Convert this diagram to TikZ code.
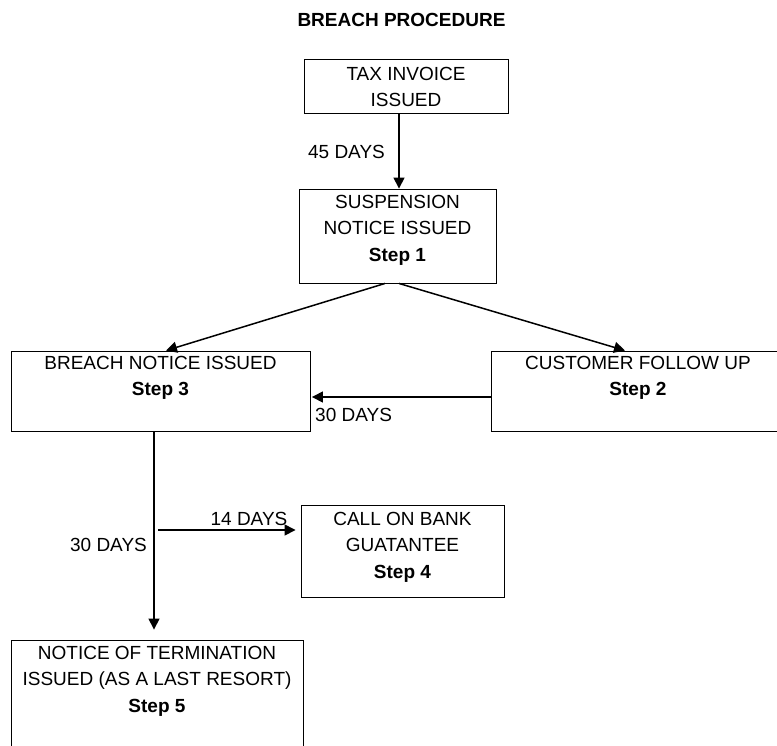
\documentclass[tikz,border=0pt]{standalone}
\usepackage{fontspec}
\setmainfont{Liberation Sans}
\usetikzlibrary{arrows.meta,calc}
\tikzset{
  box/.style={draw=black, line width=0.9pt, inner sep=0pt, rectangle},
  txt/.style={align=center, inner sep=0pt, font=\fontsize{19}{26.5}\selectfont},
  lbl/.style={inner sep=0pt, font=\fontsize{19}{26.5}\selectfont},
  conn/.style={draw=black, line width=1.5pt, -{Triangle[length=11pt,width=11pt]}},
  plain/.style={draw=black, line width=1.5pt}
}
\begin{document}
\begin{tikzpicture}[x=1pt,y=-1pt]
\useasboundingbox (0,0) rectangle (777,745);
\clip (0,0) rectangle (777,745);
% title
\node[lbl, font=\fontsize{19}{26.5}\selectfont\bfseries] (title) at (401.5,20) {BREACH PROCEDURE};
% boxes
\node[box, minimum width=204pt, minimum height=54pt] (tax) at (406,86) {};
\node[box, minimum width=197pt, minimum height=94pt] (s1) at (397.5,236) {};
\node[box, minimum width=299pt, minimum height=80pt] (s3) at (160.5,391) {};
\node[box, minimum width=294pt, minimum height=80pt] (s2) at (638,391) {};
\node[box, minimum width=203pt, minimum height=92pt] (s4) at (402.5,551) {};
\node[box, minimum width=292pt, minimum height=120pt] (s5) at (157,700) {};
% texts
\node[txt, anchor=north] (t0) at ([yshift=-8pt]tax.north) {TAX INVOICE\\ISSUED};
\node[txt, anchor=north] (t1) at ([yshift=-6pt]s1.north) {SUSPENSION\\NOTICE ISSUED\\\textbf{Step 1}};
\node[txt, anchor=north] (t3) at ([yshift=-5pt]s3.north) {BREACH NOTICE ISSUED\\\textbf{Step 3}};
\node[txt, anchor=north] (t2) at ([yshift=-5pt]s2.north) {CUSTOMER FOLLOW UP\\\textbf{Step 2}};
\node[txt, anchor=north] (t4) at ([yshift=-7pt]s4.north) {CALL ON BANK\\GUATANTEE\\\textbf{Step 4}};
\node[txt, anchor=north] (t5) at ([yshift=-6pt]s5.north) {NOTICE OF TERMINATION\\ISSUED (AS A LAST RESORT)\\\textbf{Step 5}};
% connectors
\draw[conn] ([xshift=-7pt]tax.south) -- ([xshift=-7pt]tax.south |- s1.north);
\node[lbl] (d45) at (346.5,152) {45 DAYS};
\draw[conn] ([xshift=-12.5pt]s1.south) -- ([xshift=5.5pt]s3.north);
\draw[conn] ([xshift=1.5pt]s1.south) -- ([xshift=-13pt]s2.north);
\draw[conn] ([yshift=-6pt]s2.west) -- ([yshift=-6pt,xshift=1.5pt]s3.east);
\node[lbl, anchor=west] (d30a) at (315,415) {30 DAYS};
\coordinate (top3) at (154,431);
\coordinate (j) at (154,530);
\draw[conn, shorten >=10pt] (top3) -- (top3 |- s5.north);
\draw[conn, shorten <=4pt, shorten >=5pt] (j) -- (j -| s4.west);
\node[lbl] (d14) at (249,519) {14 DAYS};
\node[lbl] (d30b) at (108.5,545) {30 DAYS};
\end{tikzpicture}
\end{document}
